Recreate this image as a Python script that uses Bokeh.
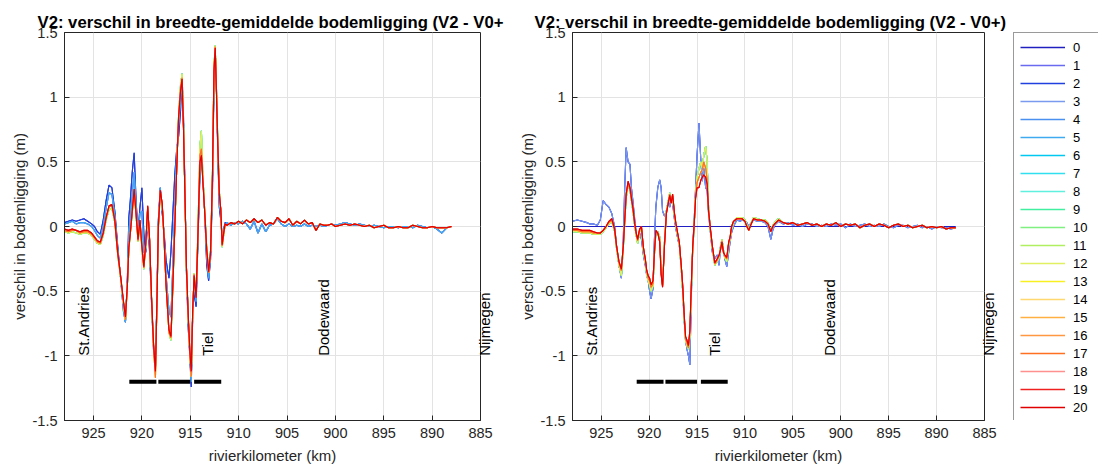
import math
from bokeh.plotting import figure
from bokeh.models import Range1d, FixedTicker, Legend, LegendItem, Label, LinearAxis
from bokeh.layouts import row
from bokeh.embed import file_html
from bokeh.resources import INLINE

FONT = "Liberation Sans"

# the left title is cut off by the neighbouring axes in the original
TITLE_LEFT = "V2: verschil in breedte-gemiddelde bodemligging (V2 - V0+"
TITLE_RIGHT = "V2: verschil in breedte-gemiddelde bodemligging (V2 - V0+)"
X_LABEL = "rivierkilometer (km)"
Y_LABEL = "verschil in bodemligging (m)"
X_TICKS = [925, 920, 915, 910, 905, 900, 895, 890, 885]
Y_TICKS = [-1.5, -1.0, -0.5, 0.0, 0.5, 1.0, 1.5]
Y_TICK_LABELS = ["-1.5", "-1", "-0.5", "0", "0.5", "1", "1.5"]

SERIES_NAMES = [str(i) for i in range(21)]
COLORS = ["#2020c0", "#6a6af0", "#2040e0", "#7a9af0", "#4a90f0", "#40aaf0", "#00c8f0",
          "#30e0f0", "#60f0e0", "#40f0a0", "#80f080", "#b0f060", "#e0f060", "#f8f020",
          "#ffd870", "#ffb040", "#ff9840", "#ff7020", "#ff9090", "#f02020", "#e00000"]

# place names inside the axes box
PLACE_NAMES = ["St.Andries", "Tiel", "Dodewaard"]
PLACE_KM = [926.0, 913.2, 901.2]
PLACE_Y = [-1.0, -1.0, -1.0]
# place name just beyond the right edge of the axes box
EDGE_NAME = "Nijmegen"
EDGE_Y = -1.0

BAR_START = [921.3, 918.3, 914.6]
BAR_END = [918.5, 915.0, 911.8]
BAR_Y = [-1.2, -1.2, -1.2]

# ---------------- left panel -----------------
KM_L = [928.0, 927.6, 927.2, 926.8, 926.4, 926.0, 925.6, 925.2, 924.9, 924.6,
        924.3, 924.0, 923.7, 923.4, 923.1, 922.8, 922.5, 922.2, 921.9, 921.7,
        921.5, 921.35, 921.2, 921.0, 920.8, 920.6, 920.4, 920.2, 920.0, 919.8,
        919.6, 919.4, 919.2, 919.0, 918.8, 918.6, 918.45, 918.3, 918.1, 917.9,
        917.7, 917.5, 917.2, 917.0, 916.8, 916.6, 916.4, 916.2, 916.0, 915.85,
        915.7, 915.55, 915.4, 915.2, 915.05, 914.9, 914.75, 914.6, 914.4, 914.2,
        914.0, 913.85, 913.7, 913.5, 913.3, 913.1, 912.9, 912.7, 912.55, 912.42,
        912.3, 912.15, 912.0, 911.85, 911.7, 911.55, 911.4]

L_RED = [-0.02, -0.03, -0.02, -0.03, -0.04, -0.03, -0.03, -0.05, -0.08, -0.11,
         -0.12, -0.05, 0.07, 0.16, 0.17, 0.05, -0.20, -0.38, -0.58, -0.70,
         -0.45, -0.16, -0.05, 0.12, 0.29, 0.10, -0.10, 0.05, -0.15, -0.31,
         -0.13, 0.16, -0.10, -0.55, -0.90, -1.12, -0.60, 0.00, 0.28, 0.18,
         -0.10, -0.45, -0.80, -0.85, -0.45, 0.00, 0.45, 0.85, 1.05, 1.14,
         0.75, 0.25, -0.30, -0.70, -0.95, -1.12, -0.65, -0.38, -0.55, -0.05,
         0.50, 0.55, 0.35, 0.10, -0.18, -0.35, -0.20, 0.40, 1.20, 1.38,
         1.05, 0.62, 0.25, 0.14, -0.14, -0.05, 0.02]

L_DARKBLUE = [0.03, 0.04, 0.05, 0.04, 0.05, 0.06, 0.04, 0.02, 0.00, -0.04,
              -0.06, 0.05, 0.20, 0.32, 0.30, 0.12, -0.15, -0.40, -0.62, -0.74,
              -0.40, 0.07, 0.20, 0.42, 0.57, 0.20, -0.05, 0.15, 0.30, -0.05,
              -0.20, 0.05, -0.20, -0.60, -0.95, -1.10, -0.55, 0.05, 0.30, 0.10,
              -0.05, -0.26, -0.40, -0.20, 0.10, 0.40, 0.60, 0.70, 0.90, 1.18,
              0.85, 0.30, -0.35, -0.80, -1.00, -1.24, -0.70, -0.50, -0.62, -0.10,
              0.40, 0.55, 0.40, 0.10, -0.30, -0.42, -0.25, 0.30, 1.10, 1.36,
              1.10, 0.55, 0.15, 0.05, -0.10, -0.02, 0.03]

L_BLUE = [0.02, 0.03, 0.04, 0.02, 0.03, 0.03, 0.02, 0.00, -0.03, -0.07,
          -0.09, 0.00, 0.14, 0.26, 0.25, 0.08, -0.18, -0.40, -0.66, -0.74,
          -0.42, -0.05, 0.08, 0.25, 0.42, 0.15, -0.08, 0.10, 0.12, -0.20,
          -0.18, 0.10, -0.15, -0.58, -0.92, -1.10, -0.58, 0.02, 0.30, 0.14,
          -0.08, -0.38, -0.65, -0.70, -0.30, 0.15, 0.55, 0.80, 1.00, 1.16,
          0.80, 0.28, -0.32, -0.75, -0.98, -1.20, -0.68, -0.42, -0.58, -0.08,
          0.45, 0.60, 0.38, 0.10, -0.22, -0.40, -0.22, 0.35, 1.15, 1.37,
          1.08, 0.58, 0.20, 0.10, -0.12, -0.04, 0.02]

L_CYAN = [-0.04, -0.05, -0.04, -0.05, -0.06, -0.05, -0.05, -0.07, -0.10, -0.13,
          -0.14, -0.07, 0.05, 0.13, 0.14, 0.03, -0.22, -0.40, -0.60, -0.72,
          -0.46, -0.18, -0.06, 0.10, 0.26, 0.08, -0.12, 0.02, -0.17, -0.33,
          -0.15, 0.14, -0.12, -0.56, -0.92, -1.10, -0.62, -0.02, 0.26, 0.16,
          -0.12, -0.46, -0.82, -0.88, -0.48, -0.02, 0.46, 0.88, 1.10, 1.18,
          0.78, 0.22, -0.32, -0.72, -0.98, -1.15, -0.68, -0.36, -0.52, 0.00,
          0.62, 0.74, 0.40, 0.12, -0.16, -0.34, -0.18, 0.44, 1.24, 1.40,
          1.08, 0.66, 0.28, 0.12, -0.16, -0.07, 0.01]

L_YELLOW = [-0.03, -0.04, -0.03, -0.03, -0.05, -0.04, -0.04, -0.06, -0.09, -0.12,
            -0.13, -0.06, 0.06, 0.15, 0.16, 0.04, -0.21, -0.39, -0.59, -0.72,
            -0.46, -0.17, -0.06, 0.11, 0.28, 0.09, -0.11, 0.04, -0.16, -0.32,
            -0.14, 0.15, -0.11, -0.57, -0.93, -1.17, -0.62, -0.01, 0.27, 0.17,
            -0.11, -0.46, -0.82, -0.86, -0.46, -0.01, 0.45, 0.86, 1.07, 1.15,
            0.77, 0.24, -0.31, -0.72, -0.97, -1.16, -0.67, -0.37, -0.54, -0.03,
            0.55, 0.60, 0.37, 0.11, -0.17, -0.36, -0.19, 0.42, 1.22, 1.39,
            1.06, 0.64, 0.27, 0.13, -0.15, -0.06, 0.01]

KM_L_TAIL = [911.2, 910.8, 910.4, 910.0, 909.6, 909.2, 908.8, 908.4, 908.0, 907.6,
             907.2, 906.8, 906.4, 906.0, 905.6, 905.2, 904.8, 904.4, 904.0, 903.6,
             903.2, 902.8, 902.4, 902.0, 901.6, 901.2, 900.8, 900.4, 900.0, 899.5,
             899.0, 898.5, 898.0, 897.5, 897.0, 896.5, 896.0, 895.5, 895.0, 894.5,
             894.0, 893.5, 893.0, 892.5, 892.0, 891.5, 891.0, 890.5, 890.0, 889.5,
             889.0, 888.5, 888.0]

L_TAIL_MAIN = [0.01, 0.03, 0.02, 0.04, 0.02, 0.05, 0.03, 0.06, 0.03, 0.05,
               0.01, 0.03, 0.02, 0.07, 0.04, 0.03, 0.06, 0.01, 0.04, 0.02,
               0.05, 0.02, 0.03, -0.03, 0.02, 0.01, 0.01, 0.02, 0.00, 0.01,
               0.02, 0.01, 0.02, 0.01, 0.00, 0.01, -0.01, 0.00, 0.01, -0.01,
               -0.01, 0.00, -0.01, -0.01, 0.01, 0.00, -0.01, -0.01, 0.00, -0.01,
               -0.01, -0.01, 0.00]

L_TAIL_BLUE = [0.03, 0.01, 0.03, 0.02, 0.04, 0.02, -0.02, 0.04, -0.05, 0.02,
               -0.04, 0.01, 0.02, 0.06, 0.02, 0.00, 0.02, 0.00, 0.01, 0.00,
               0.02, 0.00, 0.01, 0.00, 0.01, 0.00, 0.01, 0.02, 0.01, 0.02,
               0.03, 0.02, 0.01, 0.02, 0.01, 0.00, 0.01, 0.00, -0.01, 0.00,
               0.00, -0.01, 0.00, 0.00, -0.01, 0.01, 0.00, -0.01, 0.00, -0.02,
               -0.05, -0.01, 0.00]

# ---------------- right panel -----------------
KM_R = [928.0, 927.5, 927.0, 926.5, 926.2, 925.8, 925.4, 925.1, 924.8, 924.5,
        924.2, 923.9, 923.6, 923.4, 923.15, 922.9, 922.7, 922.55, 922.4, 922.2,
        922.0, 921.85, 921.7, 921.5, 921.35, 921.2, 921.0, 920.8, 920.6, 920.4,
        920.25, 920.1, 919.95, 919.8, 919.6, 919.45, 919.3, 919.1, 918.9, 918.75,
        918.6, 918.4, 918.2, 918.0, 917.85, 917.7, 917.55, 917.35, 917.2, 917.0,
        916.85, 916.65, 916.5, 916.35, 916.2, 916.05, 915.9, 915.75, 915.6, 915.45,
        915.3, 915.15, 915.0, 914.8, 914.6, 914.45, 914.3, 914.1, 913.95, 913.8,
        913.6, 913.4, 913.15, 912.9, 912.7, 912.55, 912.4, 912.25, 912.1, 911.9,
        911.7, 911.55, 911.4, 911.2, 910.85, 910.5, 910.3, 910.0, 909.8, 909.6,
        909.35, 909.1, 908.7, 908.3, 907.9, 907.6, 907.3, 907.1, 906.9, 906.5]

R_RED = [-0.02, -0.02, -0.03, -0.03, -0.03, -0.04, -0.05, -0.05, -0.03, 0.00,
         0.04, 0.06, -0.02, -0.15, -0.27, -0.33, -0.15, 0.05, 0.25, 0.35,
         0.30, 0.22, 0.15, 0.02, -0.05, -0.10, -0.02, 0.00, -0.16, -0.25,
         -0.34, -0.38, -0.40, -0.45, -0.42, -0.20, -0.03, -0.05, -0.12, -0.37,
         -0.47, -0.15, 0.10, 0.18, 0.24, 0.18, 0.25, 0.10, 0.02, -0.06,
         -0.12, -0.30, -0.45, -0.67, -0.85, -0.88, -0.92, -0.80, -0.45, -0.15,
         0.02, 0.22, 0.30, 0.30, 0.36, 0.38, 0.40, 0.38, 0.33, 0.12,
         -0.02, -0.15, -0.28, -0.25, -0.22, -0.18, -0.12, -0.20, -0.22, -0.24,
         -0.12, -0.08, 0.00, 0.04, 0.06, 0.06, 0.06, 0.04, 0.00, -0.03,
         0.02, 0.06, 0.05, 0.05, 0.04, 0.02, -0.04, 0.00, 0.02, 0.05]

R_BLUE = [0.04, 0.05, 0.04, 0.03, 0.02, 0.02, 0.01, 0.05, 0.20, 0.17,
          0.15, 0.10, 0.00, -0.15, -0.30, -0.40, -0.10, 0.30, 0.61, 0.50,
          0.48, 0.30, 0.20, 0.05, -0.05, -0.12, -0.05, -0.10, -0.22, -0.30,
          -0.38, -0.42, -0.50, -0.56, -0.48, -0.10, 0.15, 0.30, 0.36, 0.30,
          0.12, 0.08, 0.12, 0.20, 0.15, 0.20, 0.18, 0.05, -0.02, -0.10,
          -0.15, -0.30, -0.50, -0.72, -0.88, -0.95, -1.00, -1.07, -0.55, -0.15,
          0.05, 0.30, 0.55, 0.80, 0.50, 0.35, 0.45, 0.30, 0.28, 0.10,
          -0.05, -0.20, -0.25, -0.22, -0.30, -0.15, -0.10, -0.18, -0.25, -0.31,
          -0.20, -0.12, -0.05, 0.00, 0.05, 0.04, 0.05, 0.04, 0.03, 0.00,
          0.03, 0.05, 0.04, 0.04, 0.03, 0.00, -0.10, -0.03, 0.01, 0.04]

R_CYAN = [-0.04, -0.04, -0.05, -0.05, -0.05, -0.06, -0.06, -0.06, -0.04, -0.01,
          0.02, 0.04, -0.04, -0.17, -0.30, -0.38, -0.17, 0.03, 0.22, 0.32,
          0.28, 0.20, 0.12, 0.00, -0.07, -0.13, -0.04, -0.03, -0.19, -0.28,
          -0.37, -0.42, -0.45, -0.50, -0.46, -0.22, -0.05, -0.04, -0.08, -0.33,
          -0.45, -0.12, 0.12, 0.20, 0.26, 0.20, 0.22, 0.08, 0.00, -0.08,
          -0.14, -0.33, -0.50, -0.70, -0.88, -0.92, -0.95, -0.85, -0.50, -0.18,
          0.00, 0.25, 0.38, 0.45, 0.50, 0.45, 0.55, 0.62, 0.50, 0.15,
          -0.04, -0.17, -0.30, -0.27, -0.24, -0.16, -0.10, -0.18, -0.24, -0.27,
          -0.14, -0.10, -0.02, 0.03, 0.07, 0.07, 0.07, 0.05, 0.01, -0.02,
          0.03, 0.07, 0.06, 0.05, 0.05, 0.03, -0.03, 0.01, 0.03, 0.06]

R_YELLOW = [-0.03, -0.03, -0.04, -0.04, -0.04, -0.05, -0.05, -0.05, -0.03, 0.00,
            0.03, 0.05, -0.03, -0.16, -0.28, -0.34, -0.16, 0.04, 0.24, 0.33,
            0.29, 0.21, 0.14, 0.01, -0.06, -0.11, -0.03, -0.01, -0.17, -0.26,
            -0.35, -0.40, -0.42, -0.47, -0.44, -0.21, -0.04, -0.05, -0.10, -0.35,
            -0.46, -0.14, 0.11, 0.19, 0.25, 0.19, 0.24, 0.09, 0.01, -0.07,
            -0.13, -0.31, -0.47, -0.68, -0.87, -0.90, -0.94, -0.82, -0.47, -0.16,
            0.01, 0.24, 0.34, 0.38, 0.42, 0.44, 0.50, 0.45, 0.36, 0.13,
            -0.03, -0.16, -0.29, -0.26, -0.23, -0.17, -0.11, -0.19, -0.23, -0.25,
            -0.13, -0.09, -0.01, 0.04, 0.06, 0.06, 0.06, 0.04, 0.00, -0.03,
            0.02, 0.06, 0.05, 0.05, 0.04, 0.02, -0.04, 0.00, 0.02, 0.05]

KM_R_TAIL = [906.0, 905.5, 905.0, 904.5, 904.0, 903.5, 903.0, 902.5, 902.0, 901.5,
             901.0, 900.5, 900.0, 899.5, 899.0, 898.5, 898.0, 897.5, 897.0, 896.5,
             896.0, 895.5, 895.0, 894.5, 894.0, 893.5, 893.0, 892.5, 892.0, 891.5,
             891.0, 890.5, 890.0, 889.5, 889.0, 888.5, 888.0]

R_TAIL_MAIN = [0.03, 0.02, 0.03, 0.01, 0.02, 0.03, 0.01, 0.02, 0.00, 0.02,
               0.01, 0.03, 0.00, 0.02, 0.01, 0.02, -0.01, 0.01, 0.02, 0.00,
               0.02, 0.01, -0.01, 0.01, 0.02, 0.00, 0.01, -0.01, 0.00, 0.01,
               -0.01, 0.00, -0.01, 0.00, -0.02, -0.01, -0.01]

R_TAIL_BLUE = [0.02, 0.03, 0.01, 0.02, 0.00, 0.02, 0.02, 0.00, 0.01, 0.00,
               0.02, 0.01, 0.02, -0.01, 0.02, 0.00, 0.01, 0.02, 0.00, 0.01,
               0.00, 0.02, 0.00, -0.01, 0.01, 0.01, -0.01, 0.00, 0.01, -0.01,
               0.00, -0.02, 0.00, -0.01, -0.01, -0.02, -0.01]

# series 0 of the right panel is a flat zero line
R_ZERO_KM = [928.0, 888.0]
R_ZERO_VAL = [0.0, 0.0]

for a in (L_RED, L_DARKBLUE, L_BLUE, L_CYAN, L_YELLOW):
    assert len(a) == len(KM_L), len(a)
for a in (L_TAIL_MAIN, L_TAIL_BLUE):
    assert len(a) == len(KM_L_TAIL), len(a)
for a in (R_RED, R_BLUE, R_CYAN, R_YELLOW):
    assert len(a) == len(KM_R), len(a)
for a in (R_TAIL_MAIN, R_TAIL_BLUE):
    assert len(a) == len(KM_R_TAIL), len(a)

LEFT_PROFILE = [L_DARKBLUE, L_BLUE, L_DARKBLUE, L_BLUE, L_BLUE, L_BLUE,
                L_CYAN, L_CYAN, L_CYAN, L_CYAN, L_CYAN, L_CYAN, L_CYAN,
                L_YELLOW, L_YELLOW, L_YELLOW, L_YELLOW, L_YELLOW,
                L_RED, L_RED, L_RED]
LEFT_TAIL = [L_TAIL_BLUE] * 6 + [L_TAIL_MAIN] * 15
RIGHT_PROFILE = [None, R_BLUE, R_BLUE, R_BLUE,
                 R_CYAN, R_CYAN, R_CYAN, R_CYAN, R_CYAN, R_CYAN, R_CYAN, R_CYAN, R_CYAN,
                 R_YELLOW, R_YELLOW, R_YELLOW, R_YELLOW, R_YELLOW,
                 R_RED, R_RED, R_RED]
RIGHT_TAIL = [None, R_TAIL_BLUE, R_TAIL_BLUE, R_TAIL_BLUE] + [R_TAIL_MAIN] * 17

AX_COLOR = "#262626"
FIG_H = 468
BORDER_TOP = 32
BORDER_BOTTOM = 48


def make_fig(width, border_left, border_right, title, title_offset):
    p = figure(width=width, height=FIG_H, output_backend="svg", toolbar_location=None,
               x_range=Range1d(928, 885), y_range=Range1d(-1.5, 1.5),
               min_border_left=border_left, min_border_right=border_right,
               min_border_top=BORDER_TOP, min_border_bottom=BORDER_BOTTOM, title=title)
    p.title.text_font = FONT
    p.title.text_font_size = "16.7px"
    p.title.text_font_style = "bold"
    p.title.text_color = "#000000"
    p.title.align = "left"
    p.title.offset = title_offset
    p.title.standoff = 2
    p.background_fill_color = "white"
    p.border_fill_color = "white"
    p.outline_line_color = AX_COLOR
    p.outline_line_width = 1

    p.xaxis.ticker = FixedTicker(ticks=X_TICKS)
    p.yaxis.ticker = FixedTicker(ticks=Y_TICKS)
    p.yaxis.major_label_overrides = {v: s for v, s in zip(Y_TICKS, Y_TICK_LABELS)}
    p.xaxis.axis_label = X_LABEL
    p.yaxis.axis_label = Y_LABEL
    for ax in (p.xaxis[0], p.yaxis[0]):
        ax.axis_line_color = AX_COLOR
        ax.major_tick_line_color = AX_COLOR
        ax.major_tick_in = 5
        ax.major_tick_out = 0
        ax.minor_tick_line_color = None
        ax.major_label_text_font = FONT
        ax.major_label_text_font_size = "14.5px"
        ax.major_label_text_color = AX_COLOR
        ax.axis_label_text_font = FONT
        ax.axis_label_text_font_size = "15px"
        ax.axis_label_text_font_style = "normal"
        ax.axis_label_text_color = AX_COLOR
    p.xaxis.major_label_standoff = 7
    p.xaxis.axis_label_standoff = 6
    p.yaxis.major_label_standoff = 7
    p.yaxis.axis_label_standoff = 2

    p.xgrid.grid_line_color = "#e3e3e3"
    p.ygrid.grid_line_color = "#e3e3e3"
    return p


def decorate(p):
    p.segment(x0=BAR_START, y0=BAR_Y, x1=BAR_END, y1=BAR_Y,
              line_width=4, line_color="black", line_cap="butt")
    for name, km, y in zip(PLACE_NAMES, PLACE_KM, PLACE_Y):
        p.add_layout(Label(x=km, y=y, text=name, angle=math.pi / 2,
                           text_align="left", text_baseline="middle",
                           text_font=FONT, text_font_size="15px",
                           text_color="#000000"))
    # "Nijmegen" sits just outside the axes box: draw it as the tick label of a
    # bare extra axis on the right side
    edge = LinearAxis(ticker=FixedTicker(ticks=[EDGE_Y]),
                      major_label_overrides={EDGE_Y: EDGE_NAME},
                      major_label_orientation=math.pi / 2,
                      major_label_standoff=4,
                      major_label_text_font=FONT, major_label_text_font_size="15px",
                      major_label_text_color="#000000",
                      axis_label=None, axis_label_standoff=0,
                      axis_label_text_font_size="0px",
                      axis_line_color=None, major_tick_line_color=None,
                      minor_tick_line_color=None, major_tick_in=0, major_tick_out=0)
    p.add_layout(edge, "right")


def series_left(i):
    return KM_L + KM_L_TAIL, LEFT_PROFILE[i] + LEFT_TAIL[i]


def series_right(i):
    if RIGHT_PROFILE[i] is None:
        return R_ZERO_KM, R_ZERO_VAL
    return KM_R + KM_R_TAIL, RIGHT_PROFILE[i] + RIGHT_TAIL[i]


left = make_fig(510, 64, 30, TITLE_LEFT, -27)
for i in range(21):
    xs, ys = series_left(i)
    left.line(xs, ys, line_color=COLORS[i], line_width=1.1)
decorate(left)

right = make_fig(498, 62, 20, TITLE_RIGHT, -38)
for i in range(21):
    xs, ys = series_right(i)
    right.line(xs, ys, line_color=COLORS[i], line_width=1.1)
decorate(right)

# legend box in its own narrow canvas to the right of the second axes; each key
# is a copy of the corresponding right-panel series (outside this canvas' range,
# so only its legend swatch shows)
key = figure(width=90, height=FIG_H, output_backend="svg", toolbar_location=None,
             x_axis_type=None, y_axis_type=None, x_range=Range1d(0, 1), y_range=Range1d(5, 6),
             min_border_left=5, min_border_right=0,
             min_border_top=BORDER_TOP, min_border_bottom=BORDER_BOTTOM)
key.outline_line_color = None
key.grid.grid_line_color = None
key.background_fill_color = "white"
key.border_fill_color = "white"
items = []
for i in range(21):
    xs, ys = series_right(i)
    r = key.line(xs, ys, line_color=COLORS[i], line_width=1.4)
    items.append(LegendItem(label=SERIES_NAMES[i], renderers=[r]))
legend = Legend(items=items, location="top_left", orientation="vertical",
                label_text_font=FONT, label_text_font_size="13px",
                label_text_color="#000000",
                glyph_width=45, glyph_height=16, label_height=16, label_width=19,
                label_standoff=8, spacing=2, padding=6, margin=0,
                border_line_color="#9a9a9a", border_line_alpha=1.0,
                background_fill_color="white", background_fill_alpha=1.0)
key.add_layout(legend, "center")

layout = row(left, right, key, spacing=0)
open("out.html", "w").write(file_html(layout, INLINE))
